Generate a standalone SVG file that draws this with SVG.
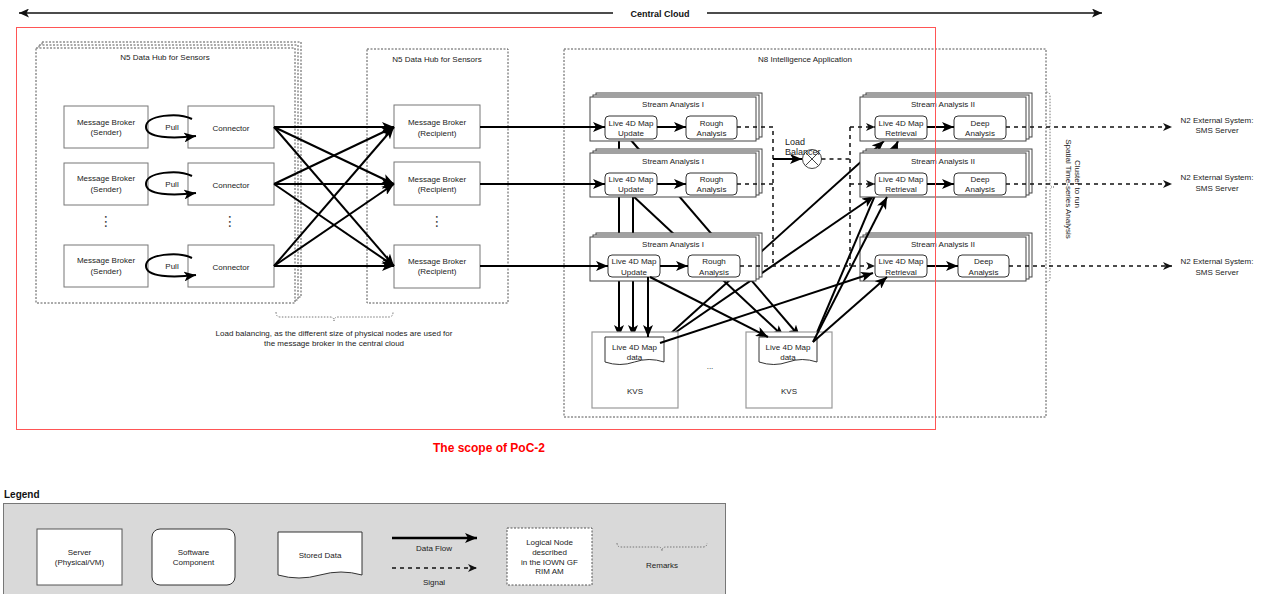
<svg xmlns="http://www.w3.org/2000/svg" width="1268" height="594" viewBox="0 0 1268 594">
<style>
.t{font-family:"Liberation Sans",Arial,sans-serif;font-size:8px;fill:#222;text-anchor:middle}
.tb{font-family:"Liberation Sans",Arial,sans-serif;font-weight:bold;fill:#111}
.vd{font-family:"DejaVu Sans",sans-serif;font-size:14px;fill:#444;text-anchor:middle}
.srv{fill:#fff;stroke:#777;stroke-width:1}
.sw{fill:#fff;stroke:#333;stroke-width:1}
.stk{fill:#fff;stroke:#444;stroke-width:1}
.kvs{fill:#fff;stroke:#999;stroke-width:1.2}
.dot{fill:#fff;stroke:#555;stroke-width:1;stroke-dasharray:2,1.5}
.dotn{fill:none;stroke:#555;stroke-width:1;stroke-dasharray:2,1.5}
.flow{fill:none;stroke:#000;stroke-width:2;marker-end:url(#ah)}
.sig{fill:none;stroke:#111;stroke-width:1.5;stroke-dasharray:4,4}
.siga{fill:none;stroke:#111;stroke-width:1.5;stroke-dasharray:4,4;marker-end:url(#sa)}
.brace{fill:none;stroke:#777;stroke-width:1;stroke-dasharray:1.5,1.5}
</style>
<defs>
<marker id="ah" markerUnits="userSpaceOnUse" markerWidth="13" markerHeight="10" refX="12" refY="5" orient="auto"><path d="M0,0 L12,5 L0,10 L3,5 z" fill="#000"/></marker>
<marker id="sa" markerUnits="userSpaceOnUse" markerWidth="10" markerHeight="8" refX="9" refY="4" orient="auto"><path d="M0,0 L9,4 L0,8 L2.5,4 z" fill="#111"/></marker>
<marker id="ca" markerUnits="userSpaceOnUse" markerWidth="11" markerHeight="9" refX="10" refY="4.5" orient="auto-start-reverse"><path d="M0,0 L10,4.5 L0,9 L2.5,4.5 z" fill="#111"/></marker>
</defs>
<rect width="1268" height="594" fill="#fff"/>

<g id="central-cloud">
<line x1="19" y1="13" x2="613" y2="13" stroke="#111" stroke-width="1.5" marker-start="url(#ca)"/>
<line x1="707" y1="13" x2="1102" y2="13" stroke="#111" stroke-width="1.5" marker-end="url(#ca)"/>
<text class="tb" x="660" y="16.5" font-size="9" text-anchor="middle">Central Cloud</text>
</g>

<g id="connectors-behind">
<path class="flow" d="M619,139 V337"/>
<path class="flow" d="M633,195 V337"/>
<path class="flow" d="M630,139 L800,337"/>
<path class="flow" d="M632,195 L784,337"/>
<path class="flow" d="M660,343 L884,141"/>
<path class="flow" d="M660,343 L874,196"/>
<path class="flow" d="M813,342 L898,141"/>
</g>

<g id="n5-sender-hub">
<rect class="dot" x="42" y="42" width="259" height="255"/>
<rect class="dot" x="39" y="45" width="259" height="255"/>
<rect class="dot" x="36" y="48" width="259" height="255"/>
<text class="t" x="165" y="60">N5 Data Hub for Sensors</text>
</g>
<g id="sender-1"><rect class="srv" x="64" y="106" width="84" height="42"/><text class="t" x="106" y="125">Message Broker</text><text class="t" x="106" y="135">(Sender)</text></g>
<g id="sender-2"><rect class="srv" x="64" y="163" width="84" height="42"/><text class="t" x="106" y="181">Message Broker</text><text class="t" x="106" y="192">(Sender)</text></g>
<g id="sender-3"><rect class="srv" x="64" y="245" width="84" height="42"/><text class="t" x="106" y="263">Message Broker</text><text class="t" x="106" y="274">(Sender)</text></g>
<g id="connector-1"><rect class="srv" x="188" y="106" width="86" height="42"/><text class="t" x="231" y="130.5">Connector</text></g>
<g id="connector-2"><rect class="srv" x="188" y="163" width="86" height="42"/><text class="t" x="231" y="187.5">Connector</text></g>
<g id="connector-3"><rect class="srv" x="188" y="245" width="86" height="42"/><text class="t" x="231" y="270">Connector</text></g>
<g id="dots-left">
<text class="vd" x="106" y="226">⋮</text>
<text class="vd" x="230" y="226">⋮</text>
</g>

<g id="n5-recipient-hub">
<rect class="dotn" x="367" y="49" width="141" height="254"/>
<text class="t" x="437" y="62">N5 Data Hub for Sensors</text>
</g>
<g id="recipient-1"><rect class="srv" x="394" y="105" width="86" height="43"/><text class="t" x="437" y="125">Message Broker</text><text class="t" x="437" y="135.5">(Recipient)</text></g>
<g id="recipient-2"><rect class="srv" x="394" y="162" width="86" height="43"/><text class="t" x="437" y="181.5">Message Broker</text><text class="t" x="437" y="192">(Recipient)</text></g>
<g id="recipient-3"><rect class="srv" x="394" y="245" width="86" height="43"/><text class="t" x="437" y="264">Message Broker</text><text class="t" x="437" y="274">(Recipient)</text></g>
<g id="dots-mid"><text class="vd" x="437" y="226">⋮</text></g>

<g id="remark-load-balancing">
<path class="brace" d="M276,312 Q276,317 280,317 L330,317 Q334,317 334,321 Q334,317 338,317 L389,317 Q393,317 393,312"/>
<text class="t" x="334" y="335.5">Load balancing, as the different size of physical nodes are used for</text>
<text class="t" x="334" y="345.5">the message broker in the central cloud</text>
</g>

<g id="n8-app">
<rect class="dotn" x="564" y="49" width="482" height="368"/>
<text class="t" x="805" y="62">N8 Intelligence Application</text>
</g>

<g id="stream-1-1">
<rect class="stk" x="596" y="93" width="166" height="44"/><rect class="stk" x="593" y="95" width="166" height="44"/><rect class="stk" x="590" y="97" width="166" height="44"/>
<text class="t" x="673" y="107">Stream Analysis I</text>
<rect class="sw" x="605" y="116" width="52" height="23" rx="4"/><text class="t" x="631" y="125.5">Live 4D Map</text><text class="t" x="631" y="136">Update</text>
<rect class="sw" x="686" y="116" width="51" height="23" rx="4"/><text class="t" x="711.5" y="125.5">Rough</text><text class="t" x="711.5" y="136">Analysis</text>
</g>
<g id="stream-1-2">
<rect class="stk" x="596" y="149" width="166" height="44"/><rect class="stk" x="593" y="151" width="166" height="44"/><rect class="stk" x="590" y="153" width="166" height="44"/>
<text class="t" x="673" y="164">Stream Analysis I</text>
<rect class="sw" x="605" y="173" width="52" height="22" rx="4"/><text class="t" x="631" y="181.5">Live 4D Map</text><text class="t" x="631" y="191.5">Update</text>
<rect class="sw" x="686" y="173" width="51" height="22" rx="4"/><text class="t" x="711.5" y="181.5">Rough</text><text class="t" x="711.5" y="191.5">Analysis</text>
</g>
<g id="stream-1-3">
<rect class="stk" x="596" y="233" width="166" height="44"/><rect class="stk" x="593" y="235" width="166" height="44"/><rect class="stk" x="590" y="237" width="166" height="44"/>
<text class="t" x="673" y="247">Stream Analysis I</text>
<rect class="sw" x="608" y="255" width="52" height="22" rx="4"/><text class="t" x="634" y="264">Live 4D Map</text><text class="t" x="634" y="274.5">Update</text>
<rect class="sw" x="688" y="255" width="52" height="22" rx="4"/><text class="t" x="714" y="264">Rough</text><text class="t" x="714" y="274.5">Analysis</text>
</g>

<g id="stream-2-1">
<rect class="stk" x="866" y="93" width="166" height="44"/><rect class="stk" x="863" y="95" width="166" height="44"/><rect class="stk" x="860" y="97" width="166" height="44"/>
<text class="t" x="943" y="107">Stream Analysis II</text>
<rect class="sw" x="875" y="116" width="52" height="23" rx="4"/><text class="t" x="901" y="125.5">Live 4D Map</text><text class="t" x="901" y="136">Retrieval</text>
<rect class="sw" x="954" y="116" width="52" height="23" rx="4"/><text class="t" x="980" y="125.5">Deep</text><text class="t" x="980" y="136">Analysis</text>
</g>
<g id="stream-2-2">
<rect class="stk" x="866" y="149" width="166" height="44"/><rect class="stk" x="863" y="151" width="166" height="44"/><rect class="stk" x="860" y="153" width="166" height="44"/>
<text class="t" x="943" y="164">Stream Analysis II</text>
<rect class="sw" x="875" y="173" width="52" height="22" rx="4"/><text class="t" x="901" y="181.5">Live 4D Map</text><text class="t" x="901" y="191.5">Retrieval</text>
<rect class="sw" x="954" y="173" width="52" height="22" rx="4"/><text class="t" x="980" y="181.5">Deep</text><text class="t" x="980" y="191.5">Analysis</text>
</g>
<g id="stream-2-3">
<rect class="stk" x="866" y="233" width="166" height="44"/><rect class="stk" x="863" y="235" width="166" height="44"/><rect class="stk" x="860" y="237" width="166" height="44"/>
<text class="t" x="943" y="247">Stream Analysis II</text>
<rect class="sw" x="875" y="255" width="52" height="22" rx="4"/><text class="t" x="901" y="264">Live 4D Map</text><text class="t" x="901" y="274.5">Retrieval</text>
<rect class="sw" x="958" y="255" width="51" height="22" rx="4"/><text class="t" x="983.5" y="264">Deep</text><text class="t" x="983.5" y="274.5">Analysis</text>
</g>

<g id="kvs-1">
<rect class="kvs" x="592" y="332" width="86" height="76"/>
<path class="sw" d="M605,337 H664 V362 Q649,357 634.5,362 Q620,367 605,362 Z"/>
<text class="t" x="634.5" y="350">Live 4D Map</text><text class="t" x="634.5" y="360">data</text>
<text class="t" x="635" y="394">KVS</text>
</g>
<g id="kvs-2">
<rect class="kvs" x="746" y="332" width="86" height="76"/>
<path class="sw" d="M759,337 H817 V362 Q802,357 788,362 Q774,367 759,362 Z"/>
<text class="t" x="788" y="350">Live 4D Map</text><text class="t" x="788" y="360">data</text>
<text class="t" x="789" y="394">KVS</text>
</g>
<g id="kvs-ellipsis"><text class="t" x="710" y="369">...</text></g>

<g id="load-balancer">
<circle cx="812" cy="159" r="9.5" fill="#fff" stroke="#444" stroke-width="1"/>
<path d="M805.3,152.3 L818.7,165.7 M818.7,152.3 L805.3,165.7" stroke="#444" stroke-width="1"/>
<text x="785" y="145" font-family="Liberation Sans, Arial, sans-serif" font-size="9" fill="#222">Load</text>
<text x="785" y="155" font-family="Liberation Sans, Arial, sans-serif" font-size="9" fill="#222">Balancer</text>
</g>

<g id="cluster-remark">
<path class="brace" d="M1046,92 Q1050,92 1050,96 L1050,183 Q1050,187 1054,187 Q1050,187 1050,191 L1050,278 Q1050,282 1046,282"/>
<text class="t" transform="translate(1075,184) rotate(90)">Cluster to run</text>
<text class="t" transform="translate(1066,189) rotate(90)">Spatial Time-series Analysis</text>
</g>

<g id="n2-1"><text class="t" x="1217" y="123">N2 External System:</text><text class="t" x="1217" y="133">SMS Server</text></g>
<g id="n2-2"><text class="t" x="1217" y="180">N2 External System:</text><text class="t" x="1217" y="191">SMS Server</text></g>
<g id="n2-3"><text class="t" x="1217" y="264">N2 External System:</text><text class="t" x="1217" y="274.5">SMS Server</text></g>

<g id="connectors">
<path class="flow" d="M274,127 L394,127"/>
<path class="flow" d="M274,127 L394,184"/>
<path class="flow" d="M274,127 L394,266"/>
<path class="flow" d="M274,184 L394,127"/>
<path class="flow" d="M274,184 L394,184"/>
<path class="flow" d="M274,184 L394,266"/>
<path class="flow" d="M274,266 L394,127"/>
<path class="flow" d="M274,266 L394,184"/>
<path class="flow" d="M274,266 L394,266"/>
<path class="flow" d="M480,127 L605,127"/>
<path class="flow" d="M480,184 L605,184"/>
<path class="flow" d="M480,266 L608,266"/>
<path class="flow" d="M657,127 L686,127"/>
<path class="flow" d="M657,184 L686,184"/>
<path class="flow" d="M660,266 L688,266"/>
<path class="flow" d="M648,277 V337"/>
<path class="flow" d="M650,277 L768,337"/>
<path class="flow" d="M813,342 L887,197"/>
<path class="flow" d="M660,343 L873,273"/>
<path class="flow" d="M813,342 L887,277"/>
<path class="flow" d="M927,127 L954,127"/>
<path class="flow" d="M927,184 L954,184"/>
<path class="flow" d="M927,266 L958,266"/>
<path class="sig" d="M737,127 H773 V266"/>
<path class="sig" d="M737,184 H773"/>
<path class="siga" d="M740,266 H875"/>
<path class="flow" d="M773,159 L802,159"/>
<path class="sig" d="M821.5,159 H850"/>
<path class="sig" d="M850,127 V266"/>
<path class="siga" d="M850,127 H875"/>
<path class="siga" d="M850,184 H875"/>
<path class="siga" d="M1006,127 H1172"/>
<path class="siga" d="M1006,184 H1172"/>
<path class="siga" d="M1009,266 H1172"/>
<path class="flow" d="M192,119 C178,112 146,115 146,127 C146,138 172,139 196,136"/>
<path class="flow" d="M192,176 C178,169 146,172 146,184 C146,195 172,196 196,193"/>
<path class="flow" d="M192,258 C178,251 146,254 146,266 C146,277 172,278 196,275"/>
</g>
<g id="pull-labels">
<text class="t" x="172" y="130">Pull</text>
<text class="t" x="172" y="186.5">Pull</text>
<text class="t" x="172" y="268.5">Pull</text>
</g>

<g id="scope">
<rect x="16.5" y="27.5" width="919" height="402" fill="none" stroke="#f55" stroke-width="1"/>
<text class="tb" x="489" y="452" font-size="12" text-anchor="middle" style="fill:#f00">The scope of PoC-2</text>
</g>

<g id="legend">
<text class="tb" x="4" y="498" font-size="10">Legend</text>
<rect x="3.5" y="503.5" width="722" height="100" fill="#d9d9d9" stroke="#777" stroke-width="1"/>
<rect class="srv" x="37" y="529" width="85" height="56" style="stroke:#555"/>
<text class="t" x="79.5" y="554.5">Server</text><text class="t" x="79.5" y="565">(Physical/VM)</text>
<rect class="sw" x="152" y="529" width="83" height="56" rx="8"/>
<text class="t" x="193.5" y="554.5">Software</text><text class="t" x="193.5" y="565">Component</text>
<path class="sw" d="M278,532 H362 V575 Q341,569 320,575 Q299,581 278,575 Z"/>
<text class="t" x="320" y="558">Stored Data</text>
<path class="flow" d="M392,538 H477" style="stroke-width:2.5"/>
<text class="t" x="434" y="551">Data Flow</text>
<path class="siga" d="M392,568 H477"/>
<text class="t" x="434" y="585">Signal</text>
<rect class="dot" x="507" y="528" width="85" height="57"/>
<text class="t" x="549.5" y="545">Logical Node</text>
<text class="t" x="549.5" y="555">described</text>
<text class="t" x="549.5" y="565">in the IOWN GF</text>
<text class="t" x="549.5" y="574">RIM AM</text>
<path class="brace" d="M617,543 Q617,547 621,547 L658,547 Q662,547 662,551 Q662,547 666,547 L703,547 Q707,547 707,543"/>
<text class="t" x="662" y="568">Remarks</text>
</g>
</svg>
